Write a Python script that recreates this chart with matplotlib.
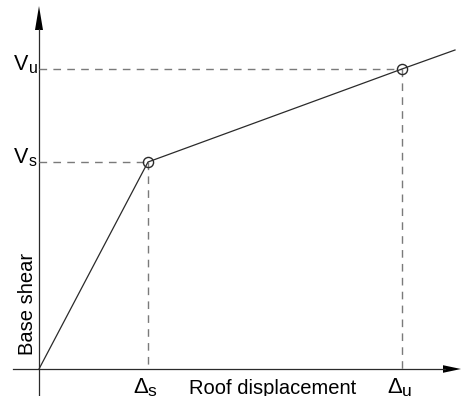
import matplotlib
matplotlib.use("Agg")
import matplotlib.pyplot as plt
from matplotlib.patches import Polygon

plt.rcParams['font.family'] = ['Liberation Sans', 'DejaVu Sans']

# Pushover curve (arbitrary units: displacement, base shear)
disp = [0, 109, 363, 416]
shear = [0, 207, 300, 319]
# key points: yield (s) and ultimate (u)
key_disp = [109, 363]
key_shear = [207, 300]
disp_main = ['Δ', 'Δ']
disp_sub = ['s', 'u']
shear_main = ['V', 'V']
shear_sub = ['s', 'u']
xlabel = 'Roof displacement'
ylabel = 'Base shear'

W, H = 461, 396
fig = plt.figure(figsize=(W / 100, H / 100), dpi=100)
ax = fig.add_axes([0, 0, 1, 1])
ax.set_xlim(-39, W - 39)
ax.set_ylim(-27, H - 27)
ax.axis('off')

lc = '#2a2a2a'
dc = '#7a7a7a'
lw = 0.9

# axes
ax.plot([-26, 406], [0, 0], color=lc, lw=lw)
ax.plot([0, 0], [-27, 340], color=lc, lw=lw)
ax.add_patch(Polygon([[0, 363], [-4, 339], [4, 339]], closed=True, color='black', lw=0))
ax.add_patch(Polygon([[422, 0], [404, 3.8], [404, -3.8]], closed=True, color='black', lw=0))

# dashed guides
for xv, yv in zip(key_disp, key_shear):
    ax.plot([0, xv], [yv, yv], color=dc, lw=1.0, dashes=(5.5, 4.5))
    ax.plot([xv, xv], [yv, 0], color=dc, lw=1.0, dashes=(5.5, 4.5))

# curve
ax.plot(disp, shear, color=lc, lw=lw)
ax.plot(key_disp, key_shear, 'o', mfc='none', mec=lc, ms=7.3, mew=1.0)

fs_main = 15.5
fs_sub = 11.5
for yv, m, s in zip(key_shear, shear_main, shear_sub):
    ax.text(-25, yv - 1, m, fontsize=fs_main, ha='left', va='baseline')
    ax.text(-10.5, yv - 4, s, fontsize=fs_sub, ha='left', va='baseline')
for xv, m, s in zip(key_disp, disp_main, disp_sub):
    ax.text(xv - 15, -24, m, fontsize=fs_main + 0.5, ha='left', va='baseline')
    ax.text(xv - 0.5, -27, s, fontsize=fs_sub + 1, ha='left', va='baseline')
ax.text(234, -25, xlabel, fontsize=14.5, ha='center', va='baseline')
ax.text(-6, 14, ylabel, fontsize=14.5, rotation=90, rotation_mode='anchor',
        ha='left', va='baseline')

fig.savefig('out.png', dpi=100)
